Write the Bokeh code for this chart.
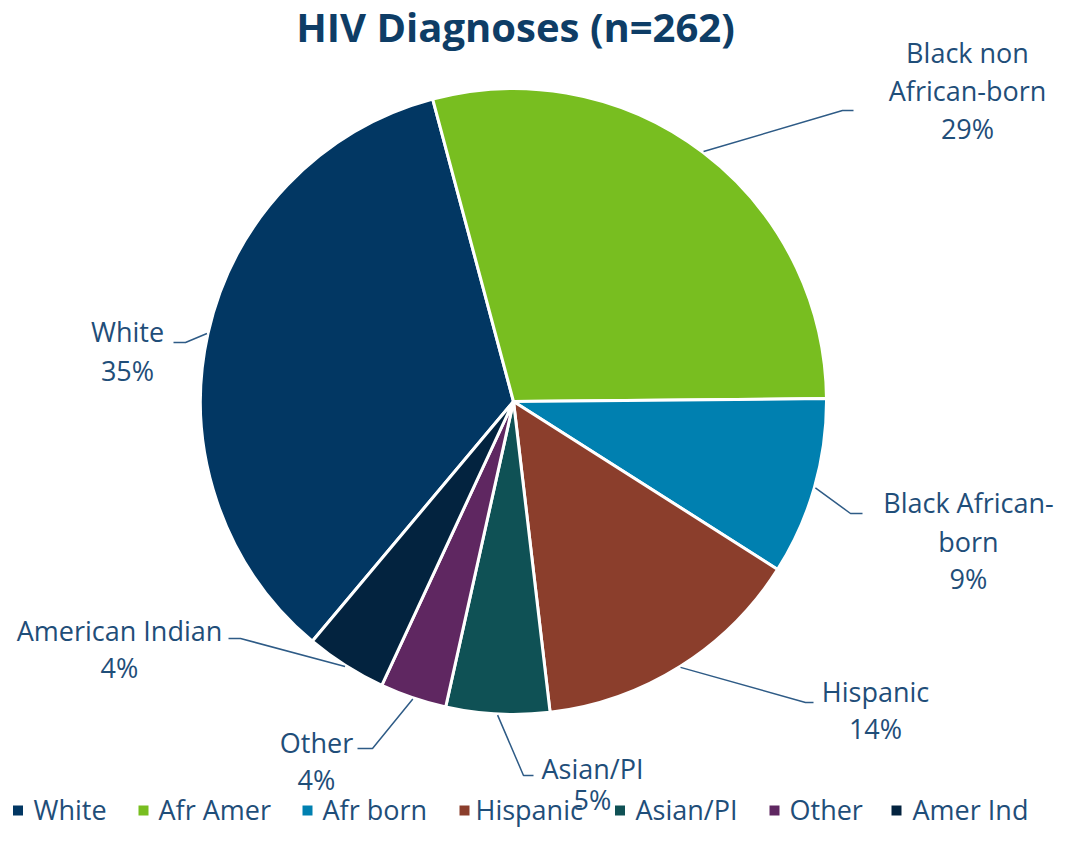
import math
from bokeh.plotting import figure
from bokeh.models import Range1d, ColumnDataSource
from bokeh.core.properties import value
from bokeh.embed import file_html
from bokeh.resources import INLINE

# ---------------- data ----------------
title = "HIV Diagnoses (n=262)"
categories = ["White", "Afr Amer", "Afr born", "Hispanic", "Asian/PI", "Other", "Amer Ind"]
counts = [91, 76, 24, 37, 14, 9, 11]
slice_labels = ["White", "Black non\nAfrican-born", "Black African-\nborn", "Hispanic",
                "Asian/PI", "Other", "American Indian"]
pct_labels = ["35%", "29%", "9%", "14%", "5%", "4%", "4%"]
colors = ["#023763", "#78be20", "#0080b0", "#8b3e2c", "#0f5155", "#5f2761", "#03233f"]

# ---------------- style / layout ----------------
W, H = 1055, 829
FONT = "Open Sans"
TEXT_COLOR = "#1f4e79"
TITLE_COLOR = "#0e3d66"
LINE_COLOR = "#2e5b86"
CX, CY, R = 513, 401, 313          # screen px
START = 220.0                      # first slice start, degrees clockwise from 12 o'clock
LBL_SIZE = 27
TITLE_SIZE = 40
LBL_SHIFT = -1                     # centre -> anchor correction (px)


def sy(y):
    return H - y


# per slice: leader elbow, leader end, text centre x, text line centre ys (screen px)
LAYOUT = [
    dict(elbow=(185, 342), end=(173, 342), tx=127, ys=[332, 371]),
    dict(elbow=(842, 110), end=(853, 110), tx=967, ys=[53, 91, 129]),
    dict(elbow=(850, 513), end=(862, 513), tx=968, ys=[503, 542, 579]),
    dict(elbow=(805, 702), end=(813, 702), tx=875, ys=[692, 729]),
    dict(elbow=(523, 775), end=(533, 775), tx=592, ys=[769, 800]),
    dict(elbow=(372, 748), end=(357, 748), tx=316, ys=[743, 780]),
    dict(elbow=(240, 638), end=(228, 638), tx=119, ys=[631, 668]),
]
LEGEND_SQ_X = [17.5, 143, 307, 464, 619.5, 774, 896]
LEGEND_TX_X = [33, 158, 322, 475, 635, 789, 912]
LEGEND_SQ_Y = 810
LEGEND_TX_Y = 810

p = figure(width=W, height=H, x_range=Range1d(0, W), y_range=Range1d(0, H),
           output_backend="svg", toolbar_location=None, min_border=0)
p.axis.visible = False
p.grid.visible = False
p.outline_line_color = None
p.background_fill_color = "white"
p.border_fill_color = "white"

# ---------------- wedges ----------------
total = sum(counts)
theta0, theta1, mids = [], [], []
t = START
for c in counts:
    span = c / total * 360.0
    theta0.append(t)
    theta1.append(t + span)
    mids.append(t + span / 2)
    t += span

src = ColumnDataSource(dict(
    x=[CX] * len(counts), y=[sy(CY)] * len(counts),
    start=[math.radians(90 - b) for b in theta1],
    end=[math.radians(90 - a) for a in theta0],
    color=colors, cat=categories))
p.wedge(x="x", y="y", radius=R, start_angle="start", end_angle="end",
        fill_color="color", line_color="white", line_width=3, source=src)

# ---------------- labels + leader lines ----------------
for i, lay in enumerate(LAYOUT):
    m = math.radians(mids[i])
    sx0 = CX + (R + 1) * math.sin(m)
    sy0 = CY - (R + 1) * math.cos(m)
    xs = [sx0, lay["elbow"][0], lay["end"][0]]
    ys = [sy(sy0), sy(lay["elbow"][1]), sy(lay["end"][1])]
    p.line(xs, ys, line_color=LINE_COLOR, line_width=1.5)
    lines = slice_labels[i].split("\n") + [pct_labels[i]]
    p.text(x=[lay["tx"]] * len(lines), y=[sy(v + LBL_SHIFT) for v in lay["ys"]], text=lines,
           text_font=value(FONT), text_font_size=f"{LBL_SIZE}px", text_color=TEXT_COLOR,
           text_align="center", text_baseline="alphabetic")

# ---------------- title ----------------
p.text(x=[515], y=[sy(26)], text=[title], text_font=value(FONT),
       text_font_size=f"{TITLE_SIZE}px", text_font_style="bold", text_color=TITLE_COLOR,
       text_align="center", text_baseline="alphabetic")

# ---------------- legend ----------------
p.rect(x=LEGEND_SQ_X, y=[sy(LEGEND_SQ_Y)] * len(categories), width=10, height=10,
       fill_color=colors, line_color=None)
p.text(x=LEGEND_TX_X, y=[sy(LEGEND_TX_Y + LBL_SHIFT)] * len(categories), text=categories,
       text_font=value(FONT), text_font_size=f"{LBL_SIZE}px", text_color=TEXT_COLOR,
       text_align="left", text_baseline="alphabetic")

open("out.html", "w").write(file_html(p, INLINE))
